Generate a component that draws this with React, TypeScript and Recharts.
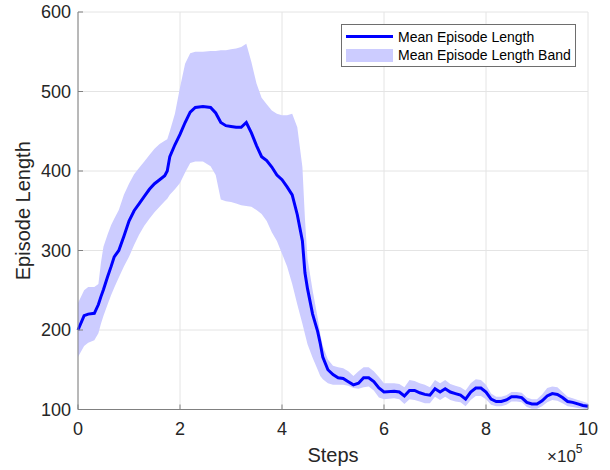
import { ComposedChart, Area, Line, XAxis, YAxis, CartesianGrid, Legend } from "recharts";

const steps = [
    0, 0.12, 0.2, 0.32, 0.4, 0.45, 0.5, 0.58, 0.65, 0.71, 0.8, 0.9, 1.0, 1.1, 1.2, 1.3, 1.4, 1.5, 1.6, 1.7, 1.75,
    1.8, 1.9, 2.0, 2.1, 2.2, 2.3, 2.45, 2.6, 2.7, 2.8, 2.9, 3.0, 3.1, 3.2, 3.3, 3.4, 3.5, 3.6, 3.7, 3.8, 3.9, 4.0,
    4.1, 4.2, 4.3, 4.4, 4.45, 4.5, 4.6, 4.7, 4.75, 4.8, 4.9, 5.0, 5.1, 5.2, 5.3, 5.4, 5.5, 5.6, 5.7, 5.8, 5.9, 6.0,
    6.2, 6.3, 6.4, 6.5, 6.6, 6.7, 6.8, 6.9, 7.0, 7.1, 7.2, 7.3, 7.4, 7.5, 7.6, 7.7, 7.8, 7.9, 8.0, 8.1, 8.2, 8.3,
    8.4, 8.5, 8.6, 8.7, 8.8, 8.9, 9.0, 9.1, 9.2, 9.3, 9.4, 9.5, 9.6, 9.7, 9.8, 9.9, 10,
];

const meanLength = [
    200, 218, 220, 221, 232, 242, 251, 267, 280, 292, 300, 318, 337, 350, 359, 368, 377, 384, 389, 394, 400,
    418, 433, 446, 461, 474, 480, 481, 480, 473, 461, 457, 456, 455, 455, 461, 448, 432, 418, 413, 405, 395, 389,
    380, 370, 345, 312, 272, 252, 220, 198, 183, 166, 150, 144, 140, 139, 135, 131, 133, 140, 140, 135, 127, 122,
    123, 122, 117, 124, 124, 121, 119, 118, 126, 122, 126, 122, 120, 118, 113, 122, 127, 127, 122, 113, 110, 110,
    112, 116, 116, 115, 109, 107, 107, 111, 117, 120, 119, 115, 110, 109, 107, 105, 104,
];

const bandUpper = [
    234, 250, 254, 254, 258, 285, 305, 320, 332, 340, 351, 370, 384, 396, 404, 412, 420, 428, 434, 438, 440,
    450, 472, 505, 535, 548, 550, 550, 551, 551, 552, 552, 553, 554, 556, 560, 537, 510, 492, 484, 476, 472, 470,
    470, 472, 455, 405, 340, 290, 250, 215, 195, 180, 163, 155, 153, 152, 148, 142, 148, 153, 153, 148, 141, 133,
    133, 132, 128, 137, 136, 133, 131, 128, 137, 133, 137, 132, 130, 128, 124, 133, 138, 137, 131, 120, 116, 116,
    118, 122, 122, 121, 115, 113, 113, 119, 127, 129, 128, 122, 116, 114, 112, 110, 108,
];

const bandLower = [
    166, 180, 184, 187, 196, 208, 218, 232, 244, 253, 266, 280, 292, 307, 320, 331, 340, 348, 355, 362, 365,
    370, 377, 385, 398, 410, 412, 412, 406, 395, 364, 362, 361, 359, 357, 356, 355, 351, 346, 337, 323, 312, 296,
    280, 258, 232, 208, 195, 182, 165, 150, 142, 138, 133, 131, 131, 131, 130, 127, 126, 128, 129, 124, 115, 113,
    114, 113, 107, 113, 112, 110, 108, 108, 116, 112, 116, 112, 110, 109, 104, 112, 117, 117, 113, 106, 104, 104,
    106, 110, 110, 109, 103, 101, 101, 104, 109, 112, 111, 108, 104, 103, 102, 101, 100,
];

const xTicks = [0, 2, 4, 6, 8, 10];
const yTicks = [100, 200, 300, 400, 500, 600];

const seriesNames = ["Mean Episode Length", "Mean Episode Length Band"];

const chartData = steps.map((x, i) => ({
    x,
    mean: meanLength[i],
    band: [bandLower[i], bandUpper[i]],
}));

const FONT = "'Liberation Sans', Arial, Helvetica, sans-serif";
const TEXT = "#262626";
const AXIS = "#808080";

const XTick = ({ x, y, payload }: any) => (
    <g>
        <line x1={x} y1={y} x2={x} y2={y - 5} stroke={AXIS} strokeWidth={1} />
        <text x={x} y={y + 19} dy="0.35em" textAnchor="middle" fontSize={18} fill={TEXT} fontFamily={FONT}>
            {payload.value}
        </text>
    </g>
);

const YTick = ({ x, y, payload }: any) => (
    <g>
        <line x1={x + 7} y1={y} x2={x + 12} y2={y} stroke={AXIS} strokeWidth={1} />
        <text x={x} y={y} dy="0.35em" textAnchor="end" fontSize={18} fill={TEXT} fontFamily={FONT}>
            {payload.value}
        </text>
    </g>
);

const XLabel = ({ viewBox }: any) => (
    <g fontFamily={FONT} fill={TEXT}>
        <text x={viewBox.x + viewBox.width / 2} y={462} textAnchor="middle" fontSize={20}>
            Steps
        </text>
        <text x={547} y={462} fontSize={17}>
            ×10
            <tspan fontSize={12} dy={-9}>
                5
            </tspan>
        </text>
    </g>
);

const YLabel = ({ viewBox }: any) => {
    const cx = 23;
    const cy = viewBox.y + viewBox.height / 2;
    return (
        <text
            x={cx}
            y={cy}
            dy="0.35em"
            transform={`rotate(-90, ${cx}, ${cy})`}
            textAnchor="middle"
            fontSize={20}
            fill={TEXT}
            fontFamily={FONT}
        >
            Episode Length
        </text>
    );
};

const LegendBox = () => (
    <div
        style={{
            width: 233,
            height: 41,
            border: "1px solid #6e6e6e",
            background: "#fff",
            fontFamily: FONT,
            fontSize: 14,
            color: "#000",
            position: "relative",
        }}
    >
        <div style={{ position: "absolute", left: 4, top: 10, width: 47, height: 3, background: "#0000ff" }} />
        <div style={{ position: "absolute", left: 56, top: 3, lineHeight: "18px", whiteSpace: "nowrap" }}>
            {seriesNames[0]}
        </div>
        <div style={{ position: "absolute", left: 4, top: 24, width: 47, height: 13, background: "#ccccff" }} />
        <div style={{ position: "absolute", left: 56, top: 21, lineHeight: "18px", whiteSpace: "nowrap" }}>
            {seriesNames[1]}
        </div>
    </div>
);

export default function App() {
    return (
        <div style={{ position: "absolute", left: 0, top: 0, background: "#fff" }}>
            <ComposedChart width={610} height={470} data={chartData} margin={{ top: 12, right: 22, bottom: 12.5, left: 0 }}>
                <CartesianGrid stroke="#e4e4e4" strokeWidth={1} />
                <Area
                    type="linear"
                    dataKey="band"
                    name={seriesNames[1]}
                    fill="#ccccff"
                    fillOpacity={1}
                    stroke="none"
                    isAnimationActive={false}
                />
                <Line
                    type="linear"
                    dataKey="mean"
                    name={seriesNames[0]}
                    stroke="#0000ff"
                    strokeWidth={3}
                    dot={false}
                    activeDot={false}
                    isAnimationActive={false}
                />
                <XAxis
                    dataKey="x"
                    type="number"
                    domain={[0, 10]}
                    ticks={xTicks}
                    height={48}
                    tickSize={0}
                    tickMargin={0}
                    tickLine={false}
                    axisLine={{ stroke: AXIS, strokeWidth: 1 }}
                    tick={<XTick />}
                    label={<XLabel />}
                />
                <YAxis
                    type="number"
                    domain={[100, 600]}
                    ticks={yTicks}
                    width={78}
                    tickSize={0}
                    tickMargin={7}
                    tickLine={false}
                    allowDataOverflow
                    axisLine={{ stroke: AXIS, strokeWidth: 1 }}
                    tick={<YTick />}
                    label={<YLabel />}
                />
                <Legend
                    layout="vertical"
                    verticalAlign="middle"
                    align="center"
                    wrapperStyle={{ position: "absolute", left: 341, top: 24, width: 235 }}
                    content={() => <LegendBox />}
                />
            </ComposedChart>
        </div>
    );
}
